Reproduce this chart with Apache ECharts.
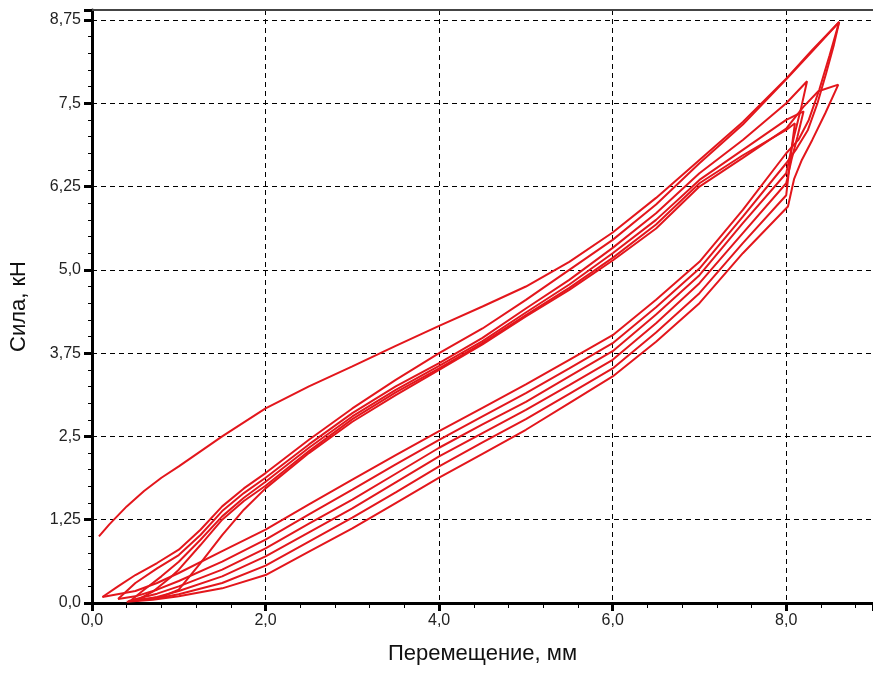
<!DOCTYPE html>
<html>
<head>
<meta charset="utf-8">
<script src="https://cdn.jsdelivr.net/npm/echarts@6/dist/echarts.min.js"></script>
<style>
  html, body { margin: 0; padding: 0; background: #fff; }
  #chart { width: 873px; height: 686px; }
</style>
</head>
<body>
<div id="chart"></div>
<script>
// значения: [перемещение, мм; сила, кН]
// нагружение (первый цикл начинается с 1 кН)
const load1 = [[0.08,1.0],[0.2,1.18],[0.4,1.45],[0.6,1.68],[0.8,1.88],[1.0,2.05],[1.5,2.5],[2.0,2.92],[2.5,3.25],[3.0,3.55],[3.5,3.86],[4.0,4.16],[4.5,4.45],[5.0,4.75],[5.5,5.12],[6.0,5.56],[6.5,6.08],[7.0,6.65],[7.5,7.22],[8.0,7.87],[8.3,8.3],[8.61,8.72]]
const load2 = [[0.12,0.09],[0.3,0.25],[0.5,0.42],[0.75,0.6],[1.0,0.8],[1.25,1.1],[1.5,1.45],[1.75,1.72],[2.0,1.95],[2.5,2.45],[3.0,2.92],[3.5,3.35],[4.0,3.75],[4.5,4.12],[5.0,4.55],[5.5,5.0],[6.0,5.45],[6.5,5.98],[7.0,6.6],[7.5,7.18],[8.0,7.86],[8.3,8.28],[8.61,8.72]]
const load3 = [[0.3,0.06],[0.5,0.3],[0.75,0.52],[1.0,0.72],[1.25,1.02],[1.5,1.38],[1.75,1.65],[2.0,1.88],[2.5,2.38],[3.0,2.85],[3.5,3.25],[4.0,3.6],[4.5,3.98],[5.0,4.42],[5.5,4.85],[6.0,5.33],[6.5,5.85],[7.0,6.45],[7.5,6.95],[8.0,7.5],[8.24,7.83]]
const load4 = [[0.45,0.04],[0.6,0.2],[0.8,0.4],[1.0,0.62],[1.25,0.95],[1.5,1.3],[1.75,1.58],[2.0,1.82],[2.5,2.33],[3.0,2.8],[3.5,3.2],[4.0,3.56],[4.5,3.93],[5.0,4.36],[5.5,4.78],[6.0,5.25],[6.5,5.75],[7.0,6.35],[7.5,6.8],[8.0,7.25],[8.2,7.38]]
const load5 = [[0.5,0.03],[0.7,0.17],[0.9,0.38],[1.0,0.5],[1.25,0.87],[1.5,1.25],[1.75,1.53],[2.0,1.76],[2.5,2.28],[3.0,2.76],[3.5,3.16],[4.0,3.52],[4.5,3.9],[5.0,4.32],[5.5,4.73],[6.0,5.18],[6.5,5.68],[7.0,6.3],[7.5,6.72],[8.0,7.1],[8.1,7.2]]
const load6 = [[0.42,0.03],[0.8,0.09],[1.0,0.2],[1.25,0.6],[1.5,1.02],[1.75,1.4],[2.0,1.72],[2.5,2.25],[3.0,2.72],[3.5,3.12],[4.0,3.5],[4.5,3.88],[5.0,4.3],[5.5,4.7],[6.0,5.14],[6.5,5.62],[7.0,6.25],[7.5,6.68],[8.0,7.12],[8.2,7.45],[8.37,7.68],[8.6,7.78]]

// разгрузка
const unload1 = [[8.61,8.72],[8.5,8.22],[8.38,7.7],[8.26,7.25],[8.14,6.95],[8.0,6.75],[7.5,5.9],[7.0,5.12],[6.5,4.55],[6.0,4.02],[5.5,3.65],[5.0,3.28],[4.5,2.93],[4.0,2.58],[3.5,2.22],[3.0,1.85],[2.5,1.48],[2.0,1.1],[1.5,0.78],[1.0,0.45],[0.75,0.3],[0.5,0.18],[0.12,0.09]]
const unload2 = [[8.61,8.72],[8.55,8.38],[8.46,7.95],[8.36,7.5],[8.25,7.1],[8.12,6.82],[8.0,6.6],[7.5,5.8],[7.0,5.02],[6.5,4.44],[6.0,3.9],[5.5,3.52],[5.0,3.15],[4.5,2.8],[4.0,2.45],[3.5,2.08],[3.0,1.7],[2.5,1.33],[2.0,0.95],[1.5,0.62],[1.0,0.33],[0.75,0.2],[0.5,0.1],[0.3,0.06]]
const unload3 = [[8.24,7.83],[8.17,7.42],[8.09,7.0],[8.0,6.45],[7.5,5.7],[7.0,4.92],[6.5,4.33],[6.0,3.78],[5.5,3.4],[5.0,3.02],[4.5,2.68],[4.0,2.33],[3.5,1.94],[3.0,1.55],[2.5,1.19],[2.0,0.82],[1.5,0.5],[1.0,0.25],[0.75,0.14],[0.45,0.04]]
const unload4 = [[8.2,7.38],[8.13,7.0],[8.06,6.65],[8.0,6.3],[7.5,5.55],[7.0,4.8],[6.5,4.2],[6.0,3.65],[5.5,3.27],[5.0,2.9],[4.5,2.55],[4.0,2.2],[3.5,1.81],[3.0,1.42],[2.5,1.06],[2.0,0.7],[1.5,0.4],[1.0,0.18],[0.75,0.09],[0.5,0.03]]
const unload5 = [[8.1,7.2],[8.05,6.7],[8.0,6.12],[7.5,5.4],[7.0,4.65],[6.5,4.06],[6.0,3.52],[5.5,3.14],[5.0,2.76],[4.5,2.41],[4.0,2.05],[3.5,1.66],[3.0,1.28],[2.5,0.92],[2.0,0.56],[1.5,0.3],[1.0,0.13],[0.75,0.07],[0.42,0.03]]
const unload6 = [[8.6,7.78],[8.45,7.35],[8.3,6.95],[8.18,6.65],[8.09,6.36],[8.02,5.95],[7.5,5.25],[7.0,4.5],[6.5,3.92],[6.0,3.4],[5.5,3.0],[5.0,2.6],[4.5,2.24],[4.0,1.88],[3.5,1.5],[3.0,1.12],[2.5,0.77],[2.0,0.42],[1.5,0.22],[1.0,0.1],[0.7,0.05],[0.4,0.02]]

const cycles = [
    [load1, unload1],
    [load2, unload2],
    [load3, unload3],
    [load4, unload4],
    [load5, unload5],
    [load6, unload6]
]

// подписи осей
const xTicks = [0, 2, 4, 6, 8]
const yTicks = [0, 1.25, 2.5, 3.75, 5, 6.25, 7.5, 8.75]

const font = 'Arial, "Liberation Sans", sans-serif'
const fmt = v => (Number.isInteger(v) ? v.toFixed(1) : String(v)).replace('.', ',')

const chart = echarts.init(document.getElementById('chart'))

const gridLine = {
    show: true,
    lineStyle: { color: '#000', type: [5, 4], width: 1 }
}

chart.setOption({
    animation: false,
    grid: { left: 92, right: 0, top: 10, bottom: 83 },
    xAxis: [
        {
            type: 'value',
            min: 0,
            max: 9,
            interval: 2,
            name: 'Перемещение, мм',
            nameLocation: 'middle',
            nameGap: 40,
            nameTextStyle: { fontFamily: font, fontSize: 22, color: '#111' },
            axisLine: { lineStyle: { color: '#000', width: 3 } },
            axisTick: { length: 8, lineStyle: { color: '#000', width: 3 } },
            minorTick: { show: true, splitNumber: 5, length: 5, lineStyle: { color: '#000', width: 1 } },
            axisLabel: {
                margin: 10,
                fontFamily: font,
                fontSize: 16,
                color: '#222',
                showMaxLabel: false,
                formatter: v => (xTicks.includes(v) ? fmt(v) : '')
            },
            splitLine: gridLine
        },
        {
            type: 'value',
            position: 'top',
            min: 0,
            max: 9,
            axisLine: { show: true, lineStyle: { color: '#444', width: 2 } },
            axisTick: { show: false },
            axisLabel: { show: false },
            splitLine: { show: false }
        }
    ],
    yAxis: {
        type: 'value',
        min: 0,
        max: 8.9,
        interval: 1.25,
        name: 'Сила, кН',
        nameLocation: 'middle',
        nameGap: 62,
        nameTextStyle: { fontFamily: font, fontSize: 22, color: '#111' },
        axisLine: { show: true, lineStyle: { color: '#000', width: 3 } },
        axisTick: { show: true, length: 8, lineStyle: { color: '#000', width: 3 } },
        minorTick: { show: true, splitNumber: 5, length: 4, lineStyle: { color: '#000', width: 1 } },
        axisLabel: {
            margin: 11,
            fontFamily: font,
            fontSize: 16,
            color: '#222',
            showMaxLabel: false,
            formatter: v => (yTicks.includes(v) ? fmt(v) : '')
        },
        splitLine: gridLine
    },
    series: cycles.map(([up, down]) => ({
        type: 'line',
        xAxisIndex: 0,
        symbol: 'none',
        smooth: false,
        lineStyle: { color: '#e3161c', width: 2 },
        data: up.concat(down)
    }))
})
</script>
</body>
</html>
